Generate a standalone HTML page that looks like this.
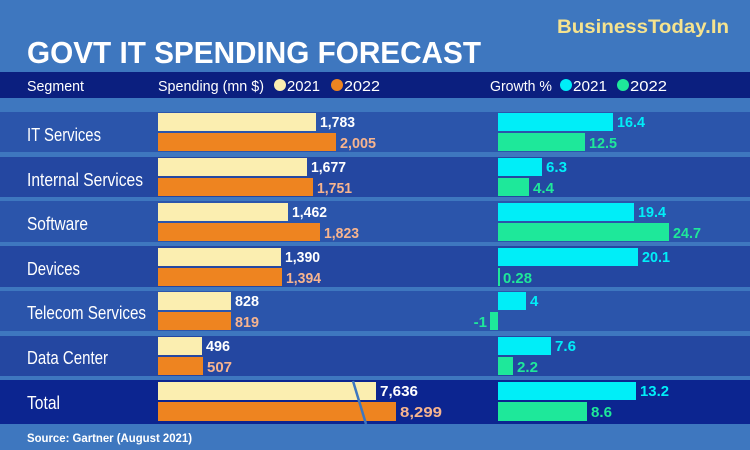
<!DOCTYPE html>
<html><head><meta charset="utf-8"><style>
html,body{margin:0;padding:0;background:#3e77bf;}
svg{display:block}
text{font-family:"Liberation Sans",sans-serif;}
</style></head><body>
<svg width="750" height="450" viewBox="0 0 750 450" xmlns="http://www.w3.org/2000/svg">
<rect width="750" height="450" fill="#3e77bf"/>
<text x="729" y="33" text-anchor="end" font-size="19" font-weight="bold" fill="#f6e38e" textLength="172" lengthAdjust="spacingAndGlyphs">BusinessToday.In</text>
<text x="27" y="63" font-size="31" font-weight="bold" fill="#fff" textLength="454" lengthAdjust="spacingAndGlyphs">GOVT IT SPENDING FORECAST</text>
<rect x="0" y="72" width="750" height="26" fill="#0b1f7f"/>
<g fill="#fff" font-size="15">
<text x="27" y="91" textLength="57" lengthAdjust="spacingAndGlyphs">Segment</text>
<text x="158" y="91" textLength="106" lengthAdjust="spacingAndGlyphs">Spending (mn $)</text>
<circle cx="280" cy="85" r="6" fill="#fbeeb0"/>
<text x="287" y="91" textLength="33" lengthAdjust="spacingAndGlyphs">2021</text>
<circle cx="337" cy="85" r="6" fill="#ee8420"/>
<text x="344" y="91" textLength="36" lengthAdjust="spacingAndGlyphs">2022</text>
<text x="490" y="91" textLength="62" lengthAdjust="spacingAndGlyphs">Growth %</text>
<circle cx="566" cy="85" r="6" fill="#00eef8"/>
<text x="573" y="91" textLength="34" lengthAdjust="spacingAndGlyphs">2021</text>
<circle cx="623" cy="85" r="6" fill="#1ee89a"/>
<text x="630" y="91" textLength="37" lengthAdjust="spacingAndGlyphs">2022</text>
</g>
<rect x="0" y="112" width="750" height="40" fill="#2b55ab"/>
<rect x="0" y="157" width="750" height="40" fill="#2447a1"/>
<rect x="0" y="201" width="750" height="41" fill="#2b55ab"/>
<rect x="0" y="246" width="750" height="41" fill="#2447a1"/>
<rect x="0" y="291" width="750" height="40" fill="#2b55ab"/>
<rect x="0" y="336" width="750" height="40" fill="#2447a1"/>
<rect x="0" y="380" width="750" height="44" fill="#0c2590"/>
<g fill="#fff" font-size="18">
<text x="27" y="141" textLength="74" lengthAdjust="spacingAndGlyphs">IT Services</text>
<text x="27" y="186" textLength="116" lengthAdjust="spacingAndGlyphs">Internal Services</text>
<text x="27" y="230" textLength="61" lengthAdjust="spacingAndGlyphs">Software</text>
<text x="27" y="275" textLength="53" lengthAdjust="spacingAndGlyphs">Devices</text>
<text x="27" y="319" textLength="119" lengthAdjust="spacingAndGlyphs">Telecom Services</text>
<text x="27" y="364" textLength="81" lengthAdjust="spacingAndGlyphs">Data Center</text>
<text x="27" y="409" textLength="33" lengthAdjust="spacingAndGlyphs">Total</text>
</g>
<g>
<rect x="158" y="113" width="158" height="18" fill="#fbeeb0"/><rect x="158" y="133" width="178" height="18" fill="#ee8420"/>
<rect x="158" y="158" width="149" height="18" fill="#fbeeb0"/><rect x="158" y="178" width="155" height="18" fill="#ee8420"/>
<rect x="158" y="203" width="130" height="18" fill="#fbeeb0"/><rect x="158" y="223" width="162" height="18" fill="#ee8420"/>
<rect x="158" y="248" width="123" height="18" fill="#fbeeb0"/><rect x="158" y="268" width="124" height="18" fill="#ee8420"/>
<rect x="158" y="292" width="73" height="18" fill="#fbeeb0"/><rect x="158" y="312" width="73" height="18" fill="#ee8420"/>
<rect x="158" y="337" width="44" height="18" fill="#fbeeb0"/><rect x="158" y="357" width="45" height="18" fill="#ee8420"/>
<rect x="158" y="382" width="218" height="18" fill="#fbeeb0"/><rect x="158" y="402" width="238" height="19" fill="#ee8420"/>
<line x1="353" y1="381" x2="366" y2="424" stroke="#3e77bf" stroke-width="2.5"/>
</g>
<g font-size="15" font-weight="bold" lengthAdjust="spacingAndGlyphs">
<g fill="#fff">
<text x="320" y="127" textLength="35" lengthAdjust="spacingAndGlyphs">1,783</text><text x="311" y="172" textLength="35" lengthAdjust="spacingAndGlyphs">1,677</text><text x="292" y="217" textLength="35" lengthAdjust="spacingAndGlyphs">1,462</text>
<text x="285" y="262" textLength="35" lengthAdjust="spacingAndGlyphs">1,390</text><text x="235" y="306" textLength="24" lengthAdjust="spacingAndGlyphs">828</text><text x="206" y="351" textLength="24" lengthAdjust="spacingAndGlyphs">496</text><text x="380" y="396" textLength="38" lengthAdjust="spacingAndGlyphs">7,636</text>
</g>
<g fill="#f7b48e">
<text x="340" y="148" textLength="36" lengthAdjust="spacingAndGlyphs">2,005</text><text x="317" y="193" textLength="35" lengthAdjust="spacingAndGlyphs">1,751</text><text x="324" y="238" textLength="35" lengthAdjust="spacingAndGlyphs">1,823</text>
<text x="286" y="283" textLength="35" lengthAdjust="spacingAndGlyphs">1,394</text><text x="235" y="327" textLength="24" lengthAdjust="spacingAndGlyphs">819</text><text x="207" y="372" textLength="25" lengthAdjust="spacingAndGlyphs">507</text><text x="400" y="417" textLength="42" lengthAdjust="spacingAndGlyphs">8,299</text>
</g>
</g>
<g>
<rect x="498" y="113" width="115" height="18" fill="#00eef8"/><rect x="498" y="133" width="87" height="18" fill="#1ee89a"/>
<rect x="498" y="158" width="44" height="18" fill="#00eef8"/><rect x="498" y="178" width="31" height="18" fill="#1ee89a"/>
<rect x="498" y="203" width="136" height="18" fill="#00eef8"/><rect x="498" y="223" width="171" height="18" fill="#1ee89a"/>
<rect x="498" y="248" width="140" height="18" fill="#00eef8"/><rect x="498" y="268" width="2" height="18" fill="#1ee89a"/>
<rect x="498" y="292" width="28" height="18" fill="#00eef8"/><rect x="490" y="312" width="8" height="18" fill="#1ee89a"/>
<rect x="498" y="337" width="53" height="18" fill="#00eef8"/><rect x="498" y="357" width="15" height="18" fill="#1ee89a"/>
<rect x="498" y="382" width="138" height="18" fill="#00eef8"/><rect x="498" y="402" width="89" height="19" fill="#1ee89a"/>
</g>
<g font-size="15" font-weight="bold">
<g fill="#00eef8">
<text x="617" y="127" textLength="28" lengthAdjust="spacingAndGlyphs">16.4</text><text x="546" y="172" textLength="21" lengthAdjust="spacingAndGlyphs">6.3</text><text x="638" y="217" textLength="28" lengthAdjust="spacingAndGlyphs">19.4</text>
<text x="642" y="262" textLength="28" lengthAdjust="spacingAndGlyphs">20.1</text><text x="530" y="306">4</text><text x="555" y="351" textLength="21" lengthAdjust="spacingAndGlyphs">7.6</text><text x="640" y="396" textLength="29" lengthAdjust="spacingAndGlyphs">13.2</text>
</g>
<g fill="#1ee89a">
<text x="589" y="148" textLength="28" lengthAdjust="spacingAndGlyphs">12.5</text><text x="533" y="193" textLength="21" lengthAdjust="spacingAndGlyphs">4.4</text><text x="673" y="238" textLength="28" lengthAdjust="spacingAndGlyphs">24.7</text>
<text x="503" y="283" textLength="29" lengthAdjust="spacingAndGlyphs">0.28</text><text x="487" y="327" text-anchor="end">-1</text><text x="517" y="372" textLength="21" lengthAdjust="spacingAndGlyphs">2.2</text><text x="591" y="417" textLength="21" lengthAdjust="spacingAndGlyphs">8.6</text>
</g>
</g>
<text x="27" y="442" font-size="12" font-weight="bold" fill="#fff" textLength="165" lengthAdjust="spacingAndGlyphs">Source: Gartner (August 2021)</text>
</svg>
</body></html>
